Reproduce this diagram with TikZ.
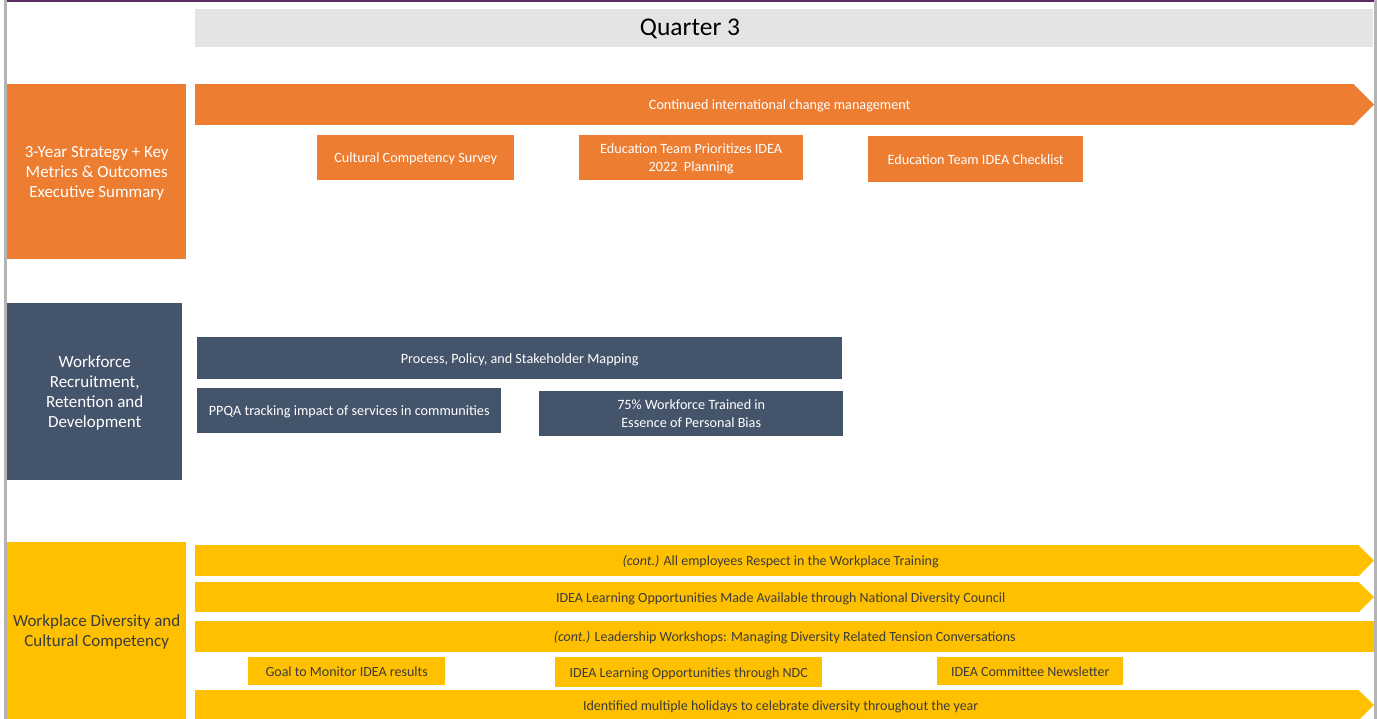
\documentclass[tikz,border=0pt]{standalone}
\usepackage{fontspec}
\setmainfont{Carlito}
\definecolor{qorange}{HTML}{ED7D31}
\definecolor{qslate}{HTML}{44546A}
\definecolor{qyellow}{HTML}{FFC000}
\definecolor{qhead}{HTML}{E4E4E4}
\definecolor{qpurple}{HTML}{5E2A66}
\definecolor{qframe}{HTML}{B4B4B4}
\definecolor{qtext}{HTML}{3C3C3C}
\begin{document}
\begin{tikzpicture}[x=1pt,y=-1pt,
  bar/.style={rectangle, inner sep=0pt, anchor=north west, align=center, text depth=0pt},
  lane/.style={bar, font=\fontsize{17}{20}\selectfont},
  task/.style={bar, font=\fontsize{14.2}{17.5}\selectfont},
  otask/.style={task, fill=qorange, text=white},
  stask/.style={task, fill=qslate, text=white},
  ytask/.style={task, fill=qyellow, text=qtext, font=\fontsize{14}{17}\selectfont},
]
\useasboundingbox (0,0) rectangle (1377,719);
\fill[white] (0,0) rectangle (1377,719);

% frame
\draw[qframe, line width=3pt] (5.5,0) -- (5.5,719);
\draw[qframe, line width=3pt] (1375.5,0) -- (1375.5,719);
\draw[qpurple, line width=2.2pt] (7,1) -- (1374,1);

% quarter header
\node[bar, fill=qhead, minimum width=1178, minimum height=38] (head) at (195,9) {};
\node[font=\fontsize{25.5}{30}\selectfont, inner sep=0pt, anchor=base] (qlabel) at (690,36) {Quarter 3};

% lane labels
\node[lane, fill=qorange, text=white, minimum width=179, minimum height=175] (lane1) at (7,84)
  {3-Year Strategy + Key\\Metrics \& Outcomes\\Executive Summary};
\node[lane, fill=qslate, text=white, minimum width=175, minimum height=177] (lane2) at (7,303)
  {Workforce\\Recruitment,\\Retention and\\Development};
\node[lane, fill=qyellow, text=qtext, minimum width=179, minimum height=177] (lane3) at (7,542)
  {Workplace Diversity and\\Cultural Competency};

% strategy lane
\node[otask, minimum width=1159, minimum height=41] (o1) at (195,84) {\hspace*{10pt}Continued international change management};
\fill[qorange] ([xshift=-1pt]o1.north east) -- (1374,104.5) -- ([xshift=-1pt]o1.south east) -- cycle;
\node[otask, minimum width=197, minimum height=45] (o2) at (317,135) {Cultural Competency Survey};
\node[otask, minimum width=224, minimum height=45] (o3) at (579,135) {Education Team Prioritizes IDEA\\2022~~Planning};
\node[otask, minimum width=215, minimum height=46] (o4) at (868,136) {Education Team IDEA Checklist};

% workforce lane
\node[stask, minimum width=645, minimum height=42] (s1) at (197,337) {Process, Policy, and Stakeholder Mapping};
\node[stask, minimum width=304, minimum height=45] (s2) at (197,388) {PPQA tracking impact of services in communities};
\node[stask, minimum width=304, minimum height=45] (s3) at (539,391) {75\% Workforce Trained in\\Essence of Personal Bias};

% diversity lane
\node[ytask, minimum width=1164, minimum height=31] (y1) at (195,545) {\hspace*{7pt}\textit{(cont.)} All employees Respect in the Workplace Training};
\fill[qyellow] ([xshift=-1pt]y1.north east) -- (1374,560.5) -- ([xshift=-1pt]y1.south east) -- cycle;
\node[ytask, minimum width=1164, minimum height=30] (y2) at (195,582) {\hspace*{7pt}IDEA Learning Opportunities Made Available through National Diversity Council};
\fill[qyellow] ([xshift=-1pt]y2.north east) -- (1374,597) -- ([xshift=-1pt]y2.south east) -- cycle;
\node[ytask, minimum width=1179, minimum height=31] (y3) at (195,621) {\textit{(cont.)} Leadership Workshops: Managing Diversity Related Tension Conversations};
\node[ytask, minimum width=197, minimum height=28] (y4) at (248,657) {Goal to Monitor IDEA results};
\node[ytask, minimum width=267, minimum height=30] (y5) at (555,657) {IDEA Learning Opportunities through NDC};
\node[ytask, minimum width=186, minimum height=28] (y6) at (937,657) {IDEA Committee Newsletter};
\node[ytask, minimum width=1164, minimum height=30] (y7) at (195,690) {\hspace*{7pt}Identified multiple holidays to celebrate diversity throughout the year};
\fill[qyellow] ([xshift=-1pt]y7.north east) -- (1374,705) -- ([xshift=-1pt]y7.south east) -- cycle;
\end{tikzpicture}
\end{document}
